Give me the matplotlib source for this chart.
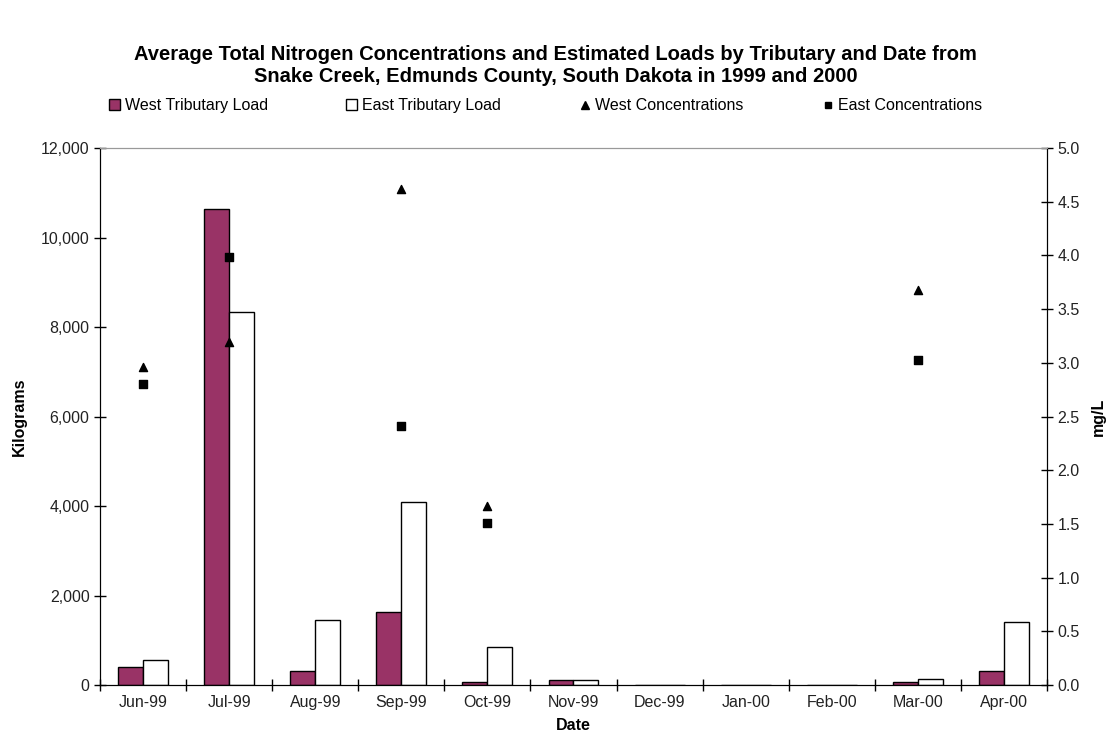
import matplotlib.pyplot as plt
import numpy as np
from matplotlib.lines import Line2D
from matplotlib.patches import Patch

plt.rcParams['font.family'] = ['Liberation Sans', 'DejaVu Sans']

dates = ["Jun-99", "Jul-99", "Aug-99", "Sep-99", "Oct-99", "Nov-99",
         "Dec-99", "Jan-00", "Feb-00", "Mar-00", "Apr-00"]
west_load = [400, 10640, 320, 1640, 60, 110, 0, 0, 0, 60, 320]
east_load = [570, 8340, 1446, 4080, 856, 110, 0, 0, 0, 127, 1414]
west_conc = [2.96, 3.19, np.nan, 4.62, 1.67, np.nan, np.nan, np.nan, np.nan, 3.68, np.nan]
east_conc = [2.80, 3.99, np.nan, 2.41, 1.51, np.nan, np.nan, np.nan, np.nan, 3.03, np.nan]

maroon = "#993366"
fs = 11.5

fig = plt.figure(figsize=(11.11, 7.45), dpi=100)
ax = fig.add_axes([0.090, 0.0805, 0.8524, 0.7208])

x = np.arange(len(dates))
w = 0.29
ax.bar(x - w / 2, west_load, w, color=maroon, edgecolor="black", linewidth=1.0)
ax.bar(x + w / 2, east_load, w, color="white", edgecolor="black", linewidth=1.0)

ax.set_xlim(-0.5, len(dates) - 0.5)
ax.set_ylim(0, 12000)
ax.set_yticks(range(0, 12001, 2000))
ax.set_yticklabels([f"{v:,}" for v in range(0, 12001, 2000)])
ax.set_xticks(x)
ax.set_xticklabels(dates)
ax.set_xticks(np.arange(-0.5, len(dates), 1.0), minor=True)
ax.tick_params(axis="x", which="major", length=0, pad=7)
ax.tick_params(axis="x", which="minor", direction="inout", length=8, width=1)
ax.tick_params(axis="y", direction="inout", length=8, width=1)
ax.tick_params(labelsize=fs, labelcolor="#222222")

ax2 = ax.twinx()
ax2.scatter(x, west_conc, marker="^", s=34, color="black", zorder=5)
ax2.scatter(x, east_conc, marker="s", s=26, color="black", zorder=5)
ax2.set_ylim(0, 5)
ax2.set_yticks(np.arange(0, 5.01, 0.5))
ax2.set_yticklabels([f"{v:.1f}" for v in np.arange(0, 5.01, 0.5)])
ax2.tick_params(axis="y", direction="inout", length=8, width=1, labelsize=fs,
                labelcolor="#222222")

for a in (ax, ax2):
    a.spines["top"].set_color("#999999")
    a.spines["left"].set_color("black")
    a.spines["right"].set_color("black")
    a.spines["bottom"].set_color("black")

ax.set_ylabel("Kilograms", fontsize=fs, fontweight="bold", labelpad=10)
ax2.set_ylabel("mg/L", fontsize=fs, fontweight="bold", labelpad=8)
ax.set_xlabel("Date", fontsize=fs, fontweight="bold", labelpad=6)

fig.suptitle("Average Total Nitrogen Concentrations and Estimated Loads by Tributary and Date from\n"
             "Snake Creek, Edmunds County, South Dakota in 1999 and 2000",
             fontsize=14.5, fontweight="bold", y=0.94, linespacing=1.2)

handles = [
    Patch(facecolor=maroon, edgecolor="black", label="West Tributary Load"),
    Patch(facecolor="white", edgecolor="black", label="East Tributary Load"),
    Line2D([], [], marker="^", color="black", linestyle="none", markersize=6,
           label="West Concentrations"),
    Line2D([], [], marker="s", color="black", linestyle="none", markersize=5,
           label="East Concentrations"),
]
fig.legend(handles=handles, loc="center", bbox_to_anchor=(0.491, 0.858), ncol=4,
           frameon=False, fontsize=fs, handlelength=0.7, handletextpad=0.3,
           columnspacing=4.9, handleheight=0.7)

fig.savefig("out.png", dpi=100)
